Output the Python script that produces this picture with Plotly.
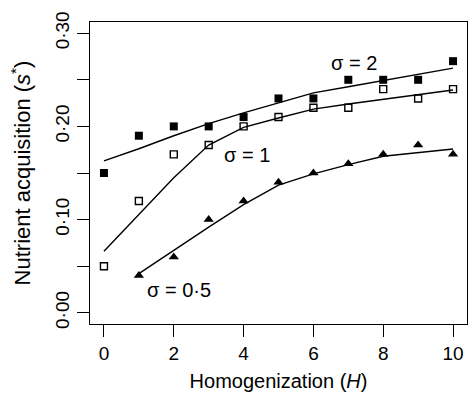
import plotly.graph_objects as go

H = [0, 1, 2, 3, 4, 5, 6, 7, 8, 9, 10]
H_half = [1, 2, 3, 4, 5, 6, 7, 8, 9, 10]

# observed nutrient acquisition
obs_s2 = [0.150, 0.190, 0.200, 0.200, 0.210, 0.230, 0.230, 0.250, 0.250, 0.250, 0.270]
obs_s1 = [0.050, 0.120, 0.170, 0.180, 0.200, 0.210, 0.220, 0.220, 0.240, 0.230, 0.240]
obs_s05 = [0.040, 0.060, 0.100, 0.120, 0.140, 0.150, 0.160, 0.170, 0.180, 0.170]

# model curves
fit_s2 = [0.163, 0.176, 0.190, 0.203, 0.2145, 0.2255, 0.236, 0.2425, 0.249, 0.2555, 0.2625]
fit_s1 = [0.066, 0.105, 0.145, 0.180, 0.199, 0.209, 0.2185, 0.224, 0.229, 0.234, 0.239]
fit_s05 = [0.042, 0.067, 0.092, 0.116, 0.137, 0.149, 0.159, 0.168, 0.172, 0.1757]

y_ticks = [0.00, 0.10, 0.20, 0.30]
y_ticktext = ["0·00", "0·10", "0·20", "0·30"]
y_minor_ticks = [0.05, 0.15, 0.25]
x_ticks = [0, 2, 4, 6, 8, 10]
x_ticktext = ["0", "2", "4", "6", "8", "10"]

labels = ["σ = 2", "σ = 1", "σ = 0·5"]
label_x = [7.16, 4.10, 2.14]
label_y = [0.2685, 0.1696, 0.025]

FONT = "Liberation Sans, Arial, Helvetica, sans-serif"
line_style = dict(color="black", width=1.4)

fig = go.Figure()
fig.add_trace(go.Scatter(x=H, y=fit_s2, mode="lines", line=line_style))
fig.add_trace(go.Scatter(x=H, y=fit_s1, mode="lines", line=line_style))
fig.add_trace(go.Scatter(x=H_half, y=fit_s05, mode="lines", line=line_style))
fig.add_trace(go.Scatter(x=H, y=obs_s2, mode="markers",
                         marker=dict(symbol="square", size=8, color="black",
                                     line=dict(width=0))))
fig.add_trace(go.Scatter(x=H, y=obs_s1, mode="markers",
                         marker=dict(symbol="square-open", size=7, color="black",
                                     line=dict(width=1.4, color="black"))))
fig.add_trace(go.Scatter(x=H_half, y=obs_s05, mode="markers",
                         marker=dict(symbol="triangle-up", size=9, color="black",
                                     line=dict(width=0))))

for t, lx, ly in zip(labels, label_x, label_y):
    fig.add_annotation(x=lx, y=ly, text=t, showarrow=False,
                       font=dict(family=FONT, size=20, color="black"))

axis_common = dict(showline=True, linecolor="black", linewidth=1.3, mirror=True,
                   ticks="outside", ticklen=12, tickwidth=1.3, tickcolor="black",
                   showgrid=False, zeroline=False, automargin=False,
                   tickfont=dict(family=FONT, size=19, color="black"))

fig.update_xaxes(range=[-0.4, 10.4], tickvals=x_ticks, ticktext=x_ticktext,
                 title=dict(text="Homogenization (<i>H</i>)", standoff=11,
                            font=dict(family=FONT, size=20, color="black")),
                 **axis_common)
fig.update_yaxes(range=[-0.012, 0.312], tickvals=y_ticks, ticktext=y_ticktext,
                 tickangle=-90,
                 title=dict(text="Nutrient acquisition (<i>s</i><sup>*</sup>)", standoff=15,
                            font=dict(family=FONT, size=22, color="black")),
                 minor=dict(tickvals=y_minor_ticks, ticks="outside", ticklen=12,
                            tickwidth=1.3, tickcolor="black", showgrid=False),
                 **axis_common)

fig.update_layout(width=468, height=394, margin=dict(l=90, r=1, t=22, b=70),
                  paper_bgcolor="white", plot_bgcolor="white", showlegend=False,
                  font=dict(family=FONT, color="black"))

fig.write_html("out.html")
